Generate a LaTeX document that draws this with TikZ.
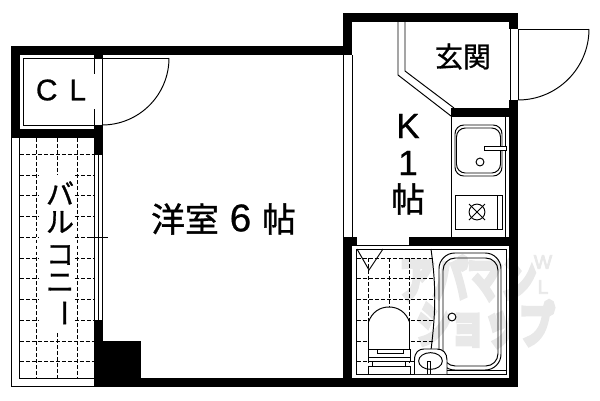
\documentclass[tikz,border=0pt]{standalone}
\usepackage{fontspec}
\setmainfont{Noto Sans CJK JP}
\newfontfamily\cjklabel[FakeBold=1]{Noto Sans CJK JP}
\newfontfamily\cjkmark[FakeBold=14]{Noto Sans CJK JP}
\newfontfamily\latinlabel[FakeBold=0.7]{Liberation Sans}
\newfontfamily\latinmark[FakeBold=4]{Liberation Sans}
\usetikzlibrary{positioning,calc,shapes.geometric}
\tikzset{
	wall/.style={fill=black, draw=none},
	thin line/.style={draw, line width=0.55pt},
	tile/.style={draw, line width=0.55pt, dash pattern=on 2.2pt off 1.2pt},
	label/.style={inner sep=0pt, font=\fontsize{19.3pt}{20pt}\cjklabel},
	small label/.style={inner sep=0pt, font=\fontsize{16pt}{17pt}\cjklabel},
	latin/.style={inner sep=0pt, font=\fontsize{20pt}{21pt}\latinlabel},
	shopmark/.style={inner sep=0pt, text=black!9, font=\fontsize{19.5pt}{20pt}\cjkmark},
	shopletter/.style={inner sep=0pt, text=black!9, font=\fontsize{11pt}{12pt}\latinmark}
}
\begin{document}
\begin{tikzpicture}[x=0.02cm,y=-0.02cm]
	\useasboundingbox (0,0) rectangle (600,400);
	% watermark
	\node[shopmark] (shop1) at (468,278) {\scalebox{1}[1.4]{アパマン}};
	\node[shopmark] (shop2) at (485,324) {\scalebox{1}[1.4]{ショップ}};
	\node[shopletter] (shopw) at (543,262) {W};
	\node[shopletter] (shopl) at (543,287) {L};
	% walls
	\fill[wall] (11,46) rectangle (352,55);
	\fill[wall] (11,46) rectangle (20,138);
	\fill[wall] (11,129) rectangle (103,138);
	\fill[wall] (94,55) rectangle (103,58);
	\fill[wall] (94,125) rectangle (103,155);
	\fill[wall] (343,13) rectangle (518,22);
	\fill[wall] (343,13) rectangle (352,55);
	\fill[wall] (509,13) rectangle (518,29);
	\fill[wall] (509,100) rectangle (518,387);
	\fill[wall] (451,108) rectangle (509,117);
	\fill[wall] (343,237) rectangle (352,387);
	\fill[wall] (343,237) rectangle (518,246);
	\fill[white] (357,237) rectangle (409,245);
	\fill[wall] (94,378) rectangle (518,387);
	\fill[wall] (94,320) rectangle (103,387);
	\fill[wall] (94,341) rectangle (141,387);
	% closet
	\draw[thin line] (23.5,125) -- (23.5,58) -- (169,58);
	\draw[thin line] (23.5,125) -- (102.5,125);
	\draw[thin line] (102.5,55) -- (102.5,125);
	\draw[thin line] (94.5,58) -- (94.5,74) (94.5,109) -- (94.5,125);
	\draw[thin line] (169,58) arc (0:90:67);
	\node[latin, font=\fontsize{17pt}{18pt}\latinlabel] (closet) at (61,90) {C\hspace{0.4em}L};
	% balcony
	\draw[thin line] (11.5,138) -- (11.5,386) -- (94,386);
	\draw[thin line] (19.5,138) -- (19.5,378) -- (94,378);
	\foreach \tx in {94.5,98,102.5}
		\draw[thin line] (\tx,155) -- (\tx,320);
	\draw[thin line] (90,237) -- (108,237);
	\foreach \ty in {154,341,361}
		\draw[tile] (20,\ty) -- (94,\ty);
	\foreach \ty in {175,195,216,237,258,278,299,320}
		\draw[tile] (20,\ty) -- (38,\ty) (75,\ty) -- (94,\ty);
	\foreach \tx in {36.5,77.5}
		\draw[tile] (\tx,138) -- (\tx,378);
	\draw[tile] (57.5,138) -- (57.5,175) (57.5,333) -- (57.5,378);
	\node[small label] (balconya) at (60,193) {バ};
	\node[small label] (balconyb) at (60,222) {ル};
	\node[small label] (balconyc) at (60,255) {コ};
	\node[small label] (balconyd) at (60,283) {ニ};
	\node[small label, rotate=-90] (balconye) at (60,313) {ー};
	% main room
	\node[label] (roomname) at (185,219) {洋室};
	\node[latin, font=\fontsize{22pt}{23pt}\latinlabel] (roomsize) at (240.5,218) {6};
	\node[label] (roomunit) at (279,219) {帖};
	% kitchen
	\draw[thin line] (343.5,55) -- (343.5,237);
	\draw[thin line] (352,55) -- (352,237);
	\draw[thin line] (398,22) -- (398,75) -- (451,116);
	\draw[thin line] (405,22) -- (405,71) -- (454,108);
	\draw[thin line] (451.5,117) -- (451.5,237);
	\draw[thin line] (505.7,117) -- (505.7,237);
	\draw[thin line, rounded corners=5pt] (455,125) rectangle (502,176);
	\draw[thin line, rounded corners=5pt] (456.5,128) rectangle (500.5,173);
	\draw[thin line, fill=white] (484,146) rectangle (506,150);
	\node[circle, draw, line width=0.55pt, minimum size=4.5pt, inner sep=0pt] (drain) at (480,162) {};
	\draw[thin line] (455,195) rectangle (502,229);
	\draw[thin line] (497,195) -- (497,229);
	\node[circle, draw, line width=0.55pt, minimum size=9pt, inner sep=0pt] (burner) at (477,212) {};
	\draw[thin line] (469,204) -- (485,220) (469,220) -- (485,204);
	\node[latin] (kitchen) at (408,126) {K};
	\node[latin] (kitchensize) at (408,163) {1};
	\node[label] (kitchenunit) at (408,199) {帖};
	% entrance
	\node[small label] (genkan) at (463,56.5) {玄関};
	\draw[thin line] (510,29) -- (510,100);
	\draw[thin line] (518,29) -- (518,100);
	\draw[thin line] (518,29) -- (589,29);
	\draw[thin line] (589,29) arc (0:90:71);
	% bath room
	\draw[thin line] (356,249) rectangle (506,374);
	\draw[thin line] (357,249) -- (369,270) -- (383,249);
	\foreach \ty in {258,278,299,320,341}
		\draw[tile] (357,\ty) -- (433,\ty);
	\draw[tile] (357,361) -- (414,361);
	\foreach \tx in {368,389,409}
		\draw[tile] (\tx,258) -- (\tx,374);
	\draw[thin line] (431,249) .. controls (436,285) and (436,310) .. (431,350);
	\draw[thin line, fill=white] (368.5,349) -- (368.5,322) .. controls (372,312) and (380,307) .. (389,307) .. controls (398,307) and (406,312) .. (409.5,322) -- (409.5,349);
	\draw[thin line, fill=white] (368.5,349) rectangle (410,361);
	\draw[thin line] (368.5,349) -- (377,349) -- (377,353.5) -- (403,353.5) -- (403,349) -- (410,349);
	\draw[thin line] (368.5,357) -- (410,357);
	\draw[thin line, fill=white] (372,361) rectangle (405,366);
	\draw[thin line, fill=white] (368.5,366) rectangle (410,374);
	\draw[thin line, rounded corners=9pt] (439,370) -- (439,253) -- (501,253) -- (501,370) -- cycle;
	\draw[thin line, rounded corners=7pt] (443,366) -- (443,258) -- (498,258) -- (498,366) -- cycle;
	\node[circle, draw, line width=0.55pt, minimum size=4.5pt, inner sep=0pt] (outlet) at (452,317) {};
	\draw[thin line, fill=white] (414.5,374) -- (414.5,360) .. controls (414.5,352) and (419,349) .. (424,349) -- (437,349) .. controls (443,349) and (447,353) .. (447,360) -- (447,374);
	\draw[thin line] (447,370.5) -- (506,370.5);
	\node[ellipse, draw, line width=0.55pt, minimum width=13.5pt, minimum height=9.5pt, inner sep=0pt] (basin) at (430.5,361) {};
	\draw[thin line] (427,374) -- (427,361) -- (430.5,361) -- (430.5,374);
\end{tikzpicture}
\end{document}
